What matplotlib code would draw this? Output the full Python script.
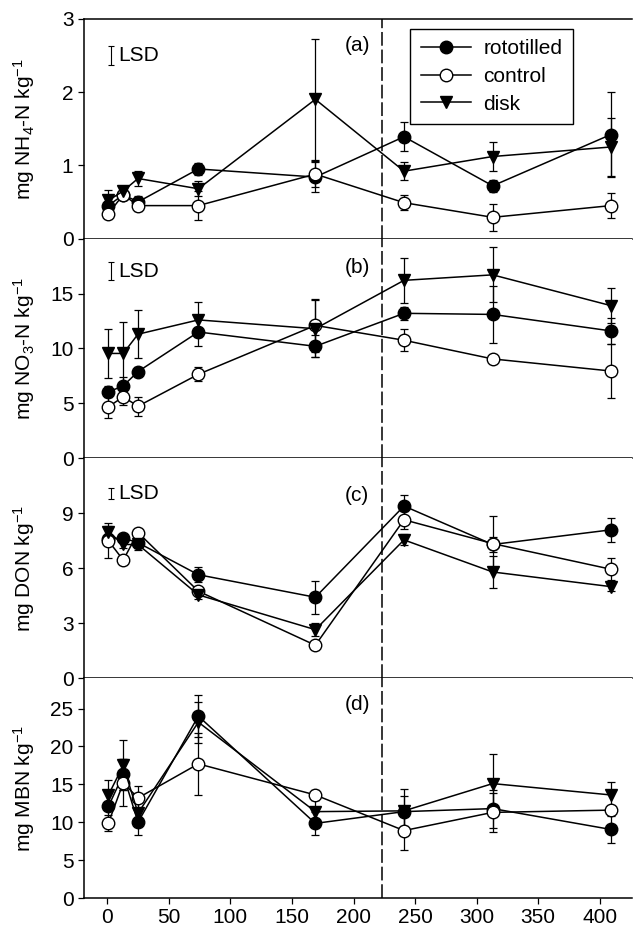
import matplotlib
matplotlib.use('Agg')
import matplotlib.pyplot as plt
from matplotlib.lines import Line2D

plt.rcParams['font.family'] = ['Liberation Sans', 'DejaVu Sans']
plt.rcParams['mathtext.default'] = 'regular'

# sampling days after treatment
days = [1, 13, 25, 74, 169, 241, 313, 409]

# (a) NH4-N
nh4_roto = [0.45, 0.6, 0.5, 0.95, 0.84, 1.39, 0.72, 1.42]
nh4_roto_err = [0.1, 0.05, 0.08, 0.08, 0.2, 0.2, 0.08, 0.58]
nh4_ctrl = [0.34, 0.6, 0.45, 0.45, 0.88, 0.49, 0.29, 0.45]
nh4_ctrl_err = [0.06, 0.05, 0.08, 0.2, 0.18, 0.1, 0.18, 0.17]
nh4_disk = [0.52, 0.65, 0.82, 0.68, 1.9, 0.92, 1.12, 1.25]
nh4_disk_err = [0.14, 0.07, 0.1, 0.1, 0.83, 0.12, 0.2, 0.4]

# (b) NO3-N
no3_roto = [6.05, 6.6, 7.9, 11.5, 10.2, 13.2, 13.1, 11.6]
no3_roto_err = [0.5, 0.8, 0.4, 1.3, 1.0, 0.6, 2.6, 1.2]
no3_ctrl = [4.7, 5.6, 4.75, 7.65, 12.1, 10.75, 9.05, 7.95]
no3_ctrl_err = [1.0, 0.7, 0.85, 0.65, 2.4, 1.0, 0.3, 2.5]
no3_disk = [9.55, 9.55, 11.3, 12.6, 11.8, 16.2, 16.7, 13.9]
no3_disk_err = [2.2, 2.9, 2.2, 1.6, 2.6, 2.05, 2.5, 1.6]

# (c) DON
don_roto = [7.6, 7.65, 7.4, 5.65, 4.42, 9.4, 7.3, 8.1]
don_roto_err = [0.3, 0.2, 0.3, 0.4, 0.9, 0.6, 0.4, 0.65]
don_ctrl = [7.5, 6.45, 7.95, 4.75, 1.8, 8.65, 7.35, 5.95]
don_ctrl_err = [0.95, 0.2, 0.2, 0.2, 0.1, 0.5, 1.5, 0.6]
don_disk = [8.0, 7.3, 7.3, 4.55, 2.65, 7.55, 5.8, 5.0]
don_disk_err = [0.3, 0.2, 0.3, 0.2, 0.35, 0.3, 0.85, 0.25]

# (d) MBN
mbn_roto = [12.1, 16.3, 10.0, 24.0, 9.85, 11.4, 11.8, 9.05]
mbn_roto_err = [2.0, 2.0, 1.7, 2.8, 1.5, 3.0, 2.5, 1.75]
mbn_ctrl = [9.9, 15.2, 13.2, 17.7, 13.6, 8.9, 11.3, 11.6]
mbn_ctrl_err = [1.0, 3.1, 1.6, 4.1, 0.6, 2.6, 2.6, 0.5]
mbn_disk = [13.6, 17.5, 11.2, 23.2, 11.4, 11.5, 15.1, 13.6]
mbn_disk_err = [2.0, 3.3, 1.5, 2.7, 1.5, 2.0, 3.9, 1.7]

ylabels = [r'mg NH$_4$-N kg$^{-1}$', r'mg NO$_3$-N kg$^{-1}$',
           r'mg DON kg$^{-1}$', r'mg MBN kg$^{-1}$']
ylims = [3, 20, 12, 29]
yticks = [[0, 1, 2, 3], [0, 5, 10, 15], [0, 3, 6, 9], [0, 5, 10, 15, 20, 25]]
panel_names = ['(a)', '(b)', '(c)', '(d)']
panel_y = [2.64, 17.4, 10.0, 25.5]
lsd_center = [2.5, 17.05, 10.1, None]
lsd_half = [0.125, 0.85, 0.3, None]

series = [
    (nh4_roto, nh4_roto_err, nh4_ctrl, nh4_ctrl_err, nh4_disk, nh4_disk_err),
    (no3_roto, no3_roto_err, no3_ctrl, no3_ctrl_err, no3_disk, no3_disk_err),
    (don_roto, don_roto_err, don_ctrl, don_ctrl_err, don_disk, don_disk_err),
    (mbn_roto, mbn_roto_err, mbn_ctrl, mbn_ctrl_err, mbn_disk, mbn_disk_err),
]

fig, axes = plt.subplots(4, 1, figsize=(6.35, 9.38), dpi=100, sharex=True)
fig.subplots_adjust(left=0.132, right=0.995, top=0.98, bottom=0.0426, hspace=0)

ebkw = dict(color='black', lw=1.1, elinewidth=0.9, capsize=3, capthick=0.9, ms=9)

for i, ax in enumerate(axes):
    r, re, c, ce, d, de = series[i]
    ax.errorbar(days, r, yerr=re, fmt='-o', mfc='black', mec='black', **ebkw)
    ax.errorbar(days, c, yerr=ce, fmt='-o', mfc='white', mec='black', **ebkw)
    ax.errorbar(days, d, yerr=de, fmt='-v', mfc='black', mec='black', **ebkw)

    # dashed line marking the break between seasons
    ax.axvline(223, color='black', lw=1.1, dashes=(9, 2.5))

    ax.set_xlim(-19, 426)
    ax.set_ylim(0, ylims[i])
    ax.set_yticks(yticks[i])
    ax.set_xticks(range(0, 401, 50))
    ax.tick_params(direction='out', length=4, width=0.9, labelsize=15)
    ax.spines['right'].set_visible(False)
    if i > 0:
        ax.spines['top'].set_visible(False)
    for s in ['left', 'bottom', 'top']:
        ax.spines[s].set_linewidth(1.1)
    ax.set_ylabel(ylabels[i], fontsize=15)
    ax.yaxis.set_label_coords(-0.086, 0.5)
    ax.text(203, panel_y[i], panel_names[i], fontsize=15, ha='center', va='center')

    if lsd_center[i] is not None:
        ax.errorbar([3], [lsd_center[i]], yerr=[lsd_half[i]], fmt='none',
                    ecolor='black', elinewidth=0.8, capsize=2.5, capthick=0.8)
        ax.text(9, lsd_center[i], 'LSD', fontsize=15, ha='left', va='center')

# legend shows plain line + marker, no error bars
handles = [
    Line2D([], [], color='black', lw=1.1, marker='o', ms=9, mfc='black', mec='black'),
    Line2D([], [], color='black', lw=1.1, marker='o', ms=9, mfc='white', mec='black'),
    Line2D([], [], color='black', lw=1.1, marker='v', ms=9, mfc='black', mec='black'),
]
leg = axes[0].legend(handles, ['rototilled', 'control', 'disk'],
                     loc='upper right', bbox_to_anchor=(0.892, 0.954),
                     borderaxespad=0, fontsize=15, fancybox=False,
                     edgecolor='black', framealpha=1, handlelength=2.4,
                     labelspacing=0.42, borderpad=0.5, handletextpad=0.6)
leg.get_frame().set_linewidth(1.0)

fig.savefig('out.png', dpi=100)
